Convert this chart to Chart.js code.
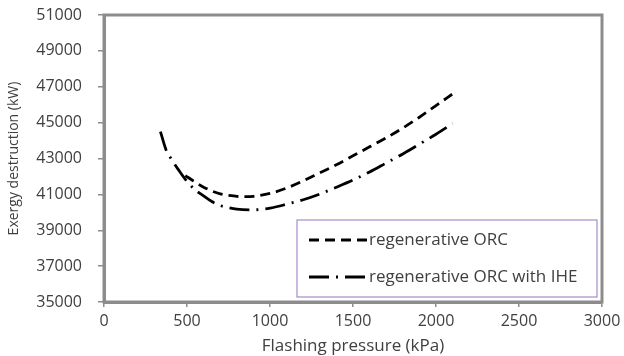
<!DOCTYPE html>
<html>
<head>
<meta charset="utf-8">
<script src="https://cdn.jsdelivr.net/npm/chart.js@4.4.0/dist/chart.umd.min.js"></script>
<style>
  body { margin:0; background:#fff; }
  #wrap { width:624px; height:356px; }
</style>
</head>
<body>
<div id="wrap"><canvas id="myChart"></canvas></div>
<script>
// flashing pressure (kPa) and exergy destruction (kW)
const pressureORC = [490, 550, 600, 700, 800, 850, 900, 1000, 1100, 1200, 1300, 1400, 1500, 1600, 1700, 1800, 1900, 2000, 2100];
const destructionORC = [42050, 41680, 41400, 41030, 40890, 40870, 40890, 41050, 41350, 41750, 42200, 42650, 43150, 43650, 44150, 44700, 45300, 45950, 46600];

const pressureIHE = [340, 375, 400, 450, 500, 550, 600, 650, 700, 750, 800, 900, 1000, 1100, 1200, 1300, 1400, 1500, 1600, 1700, 1800, 1900, 2000, 2100];
const destructionIHE = [44500, 43450, 43050, 42350, 41720, 41250, 40920, 40600, 40380, 40260, 40180, 40140, 40230, 40450, 40700, 41020, 41400, 41800, 42250, 42750, 43250, 43800, 44350, 44950];

const seriesNames = ["regenerative ORC", "regenerative ORC with IHE"];
const xRange = [0, 3000, 500];
const yRange = [35000, 51000, 2000];

const txtColor = "#404040";
const frameColor = "#8c8c8c";
const fontName = "'Open Sans', sans-serif";

function toPoints(xs, ys){
    let pts = [];
    xs.forEach(function(x, i){
        pts.push({x: x, y: ys[i]});
    });
    return pts;
}

// grey frame around plot
const framePlugin = {
    id: "frame",
    afterDatasetsDraw(chart){
        const ctx = chart.ctx;
        const a = chart.chartArea;
        ctx.save();
        ctx.strokeStyle = frameColor;
        ctx.lineWidth = 3;
        ctx.strokeRect(a.left, a.top, a.right - a.left, a.bottom - a.top);
        ctx.restore();
    }
};

// legend box sitting inside the plot, lower right
const insideLegend = {
    id: "insideLegend",
    afterDraw(chart){
        const ctx = chart.ctx;
        const a = chart.chartArea;
        const left = a.left + 193, right = a.right - 5;
        const top = a.bottom - 82, bottom = a.bottom - 5;
        ctx.save();
        ctx.fillStyle = "#fff";
        ctx.fillRect(left, top, right - left, bottom - top);
        ctx.strokeStyle = "#a68ccf";
        ctx.lineWidth = 1.2;
        ctx.strokeRect(left, top, right - left, bottom - top);
        ctx.font = "17px " + fontName;
        ctx.textBaseline = "middle";
        chart.data.datasets.forEach(function(ds, i){
            const y = top + 20 + i * 37;
            ctx.beginPath();
            ctx.setLineDash(ds.borderDash);
            ctx.lineDashOffset = 0;
            ctx.strokeStyle = ds.borderColor;
            ctx.lineWidth = ds.borderWidth;
            ctx.moveTo(left + 12, y);
            ctx.lineTo(left + 70, y);
            ctx.stroke();
            ctx.setLineDash([]);
            ctx.fillStyle = txtColor;
            ctx.fillText(ds.label, left + 72, y);
        });
        ctx.restore();
    }
};

var ctx = document.getElementById("myChart").getContext("2d");
let myChart = new Chart(ctx, {
    type: "line",
    data: {
        datasets: [
            {
                label: seriesNames[0],
                data: toPoints(pressureORC, destructionORC),
                borderColor: "#000",
                borderWidth: 2.8,
                borderDash: [10, 6],
                pointRadius: 0,
                cubicInterpolationMode: "monotone",
                fill: false
            },
            {
                label: seriesNames[1],
                data: toPoints(pressureIHE, destructionIHE),
                borderColor: "#000",
                borderWidth: 2.8,
                borderDash: [20, 7, 2, 7],
                pointRadius: 0,
                cubicInterpolationMode: "monotone",
                fill: false
            }
        ]
    },
    options: {
        responsive: true,
        maintainAspectRatio: false,
        animation: false,
        layout: { padding: { top: 15, right: 22, left: 0, bottom: 0 } },
        plugins: {
            legend: { display: false },
            tooltip: { enabled: false }
        },
        scales: {
            x: {
                type: "linear",
                min: xRange[0],
                max: xRange[1],
                ticks: { stepSize: xRange[2], color: txtColor, font: { family: fontName, size: 16 }, padding: 5,
                    callback: function(v){ return String(v); } },
                grid: { display: true, drawOnChartArea: false, drawTicks: true, tickLength: 5, color: frameColor, lineWidth: 1.5 },
                border: { display: true, color: frameColor, width: 3 },
                title: { display: true, text: "Flashing pressure (kPa)", color: txtColor, font: { family: fontName, size: 17 }, padding: { top: 0, bottom: 0 } },
                afterFit: function(scale){ scale.height = 54; scale.paddingLeft = 0; scale.paddingRight = 0; }
            },
            y: {
                min: yRange[0],
                max: yRange[1],
                ticks: { stepSize: yRange[2], color: txtColor, font: { family: fontName, size: 16 }, padding: 16,
                    callback: function(v){ return String(v); } },
                grid: { display: true, drawOnChartArea: false, drawTicks: true, tickLength: 6, color: frameColor, lineWidth: 1.5 },
                border: { display: true, color: frameColor, width: 3 },
                title: { display: true, text: "Exergy destruction (kW)", color: txtColor, font: { family: fontName, size: 14 }, padding: { top: 6, bottom: 0 } },
                afterFit: function(scale){ scale.width = 104; scale.paddingTop = 0; scale.paddingBottom = 0; }
            }
        }
    },
    plugins: [framePlugin, insideLegend]
});
</script>
</body>
</html>
